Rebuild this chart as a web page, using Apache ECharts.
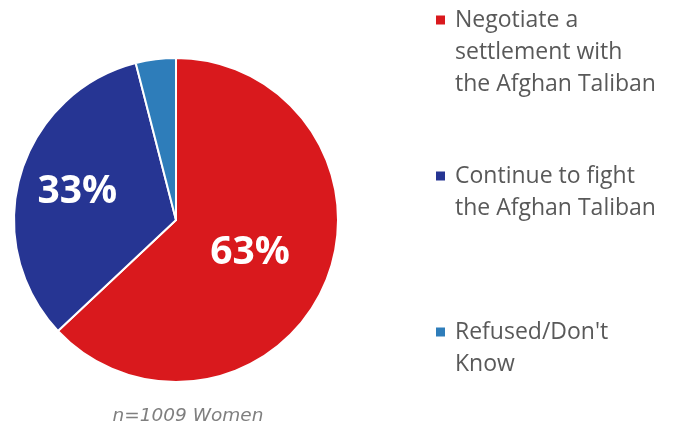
<!DOCTYPE html>
<html>
<head>
<meta charset="utf-8">
<script src="https://cdn.jsdelivr.net/npm/echarts@6/dist/echarts.min.js"></script>
<style>html,body{margin:0;padding:0;background:#fff}#c{width:673px;height:428px}</style>
</head>
<body>
<div id="c"></div>
<script>
var categories = ["Negotiate a settlement with the Afghan Taliban", "Continue to fight the Afghan Taliban", "Refused/Don't Know"];
var legendLines = [["Negotiate a", "settlement with", "the Afghan Taliban"], ["Continue to fight", "the Afghan Taliban"], ["Refused/Don't", "Know"]];
var values = [63, 33, 4];
var labels = ["63%", "33%", ""];
var colors = ["#d9191d", "#263593", "#2e7dba"];
var note = "n=1009 Women";

var chart = echarts.init(document.getElementById('c'));
var legendTops = [4, 160, 316];
var legends = categories.map(function (name, i) {
  var rich = {
    m: { width: 9, height: 9, backgroundColor: colors[i] },
    g: { width: 10 },
    s: { width: 19 },
    t: { fontSize: 23, color: '#595959', fontFamily: 'Open Sans', lineHeight: 32 }
  };
  return {
    data: [{ name: name, icon: 'none' }],
    left: 431,
    top: legendTops[i],
    itemWidth: 0,
    itemHeight: 0,
    itemGap: 0,
    padding: 0,
    selectedMode: false,
    formatter: function () {
      return legendLines[i].map(function (l, j) {
        return (j === 0 ? '{m|}{g|}' : '{s|}') + '{t|' + l + '}';
      }).join('\n');
    },
    textStyle: { rich: rich, lineHeight: 32, padding: 0 }
  };
});

chart.setOption({
  animation: false,
  color: colors,
  legend: legends,
  title: {
    text: note,
    left: 183,
    top: 402,
    textAlign: 'center',
    textStyle: { fontSize: 18.5, fontStyle: 'italic', fontWeight: 'normal', color: '#7f7f7f', fontFamily: 'DejaVu Sans' }
  },
  series: [{
    type: 'pie',
    center: [176, 220],
    radius: [0, 162],
    startAngle: 90,
    clockwise: true,
    itemStyle: { borderColor: '#fff', borderWidth: 2 },
    label: {
      show: true,
      position: 'inside',
      color: '#fff',
      fontSize: 39,
      fontWeight: 'bold',
      fontFamily: 'Open Sans',
      formatter: function (p) { return labels[p.dataIndex]; }
    },
    labelLine: { show: false },
    data: categories.map(function (name, i) {
      var d = { name: name, value: values[i] };
      if (i === 0) d.label = { offset: [-3, 0] };
      if (i === 1) d.label = { offset: [-18, -5] };
      return d;
    })
  }]
});
</script>
</body>
</html>
